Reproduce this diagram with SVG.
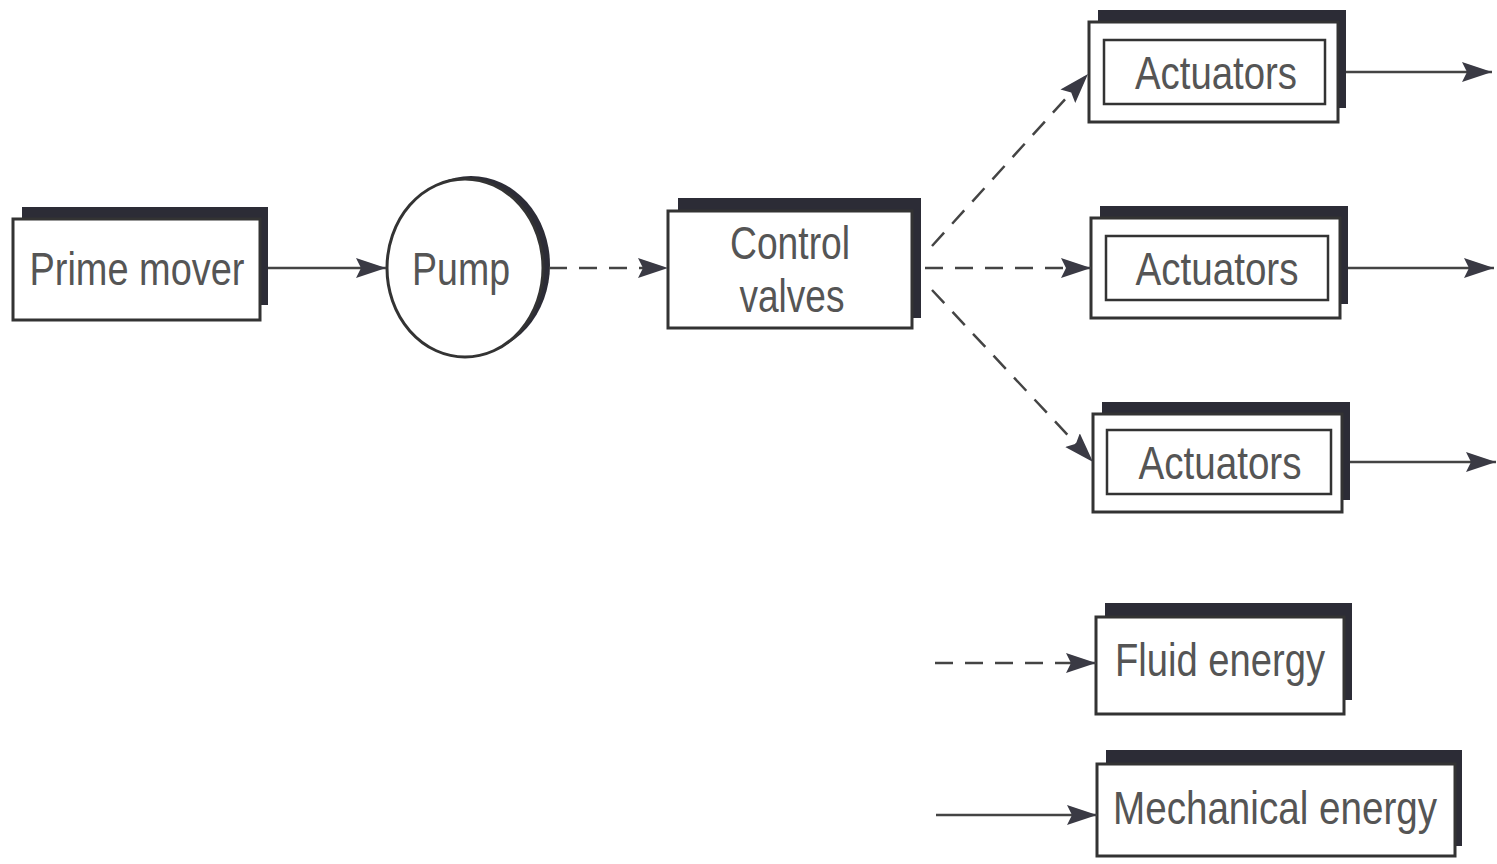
<svg xmlns="http://www.w3.org/2000/svg" width="1497" height="864" viewBox="0 0 1497 864">
<defs>
<marker id="ah" markerUnits="userSpaceOnUse" markerWidth="32" markerHeight="22" refX="30" refY="10" orient="auto">
<path d="M0,0 L30,10 L0,20 L5,10 Z" fill="#3a3a44"/>
</marker>
</defs>
<style>
.sh{fill:#2c2c36;}
.box{fill:#fff;stroke:#333;stroke-width:3;}
.inner{fill:none;stroke:#333;stroke-width:2.5;}
.t{font-family:"Liberation Sans",Arial,sans-serif;font-size:47px;fill:#555;text-anchor:middle;}
.solid{stroke:#444;stroke-width:2.5;fill:none;marker-end:url(#ah);}
.dash{stroke:#444;stroke-width:2.5;fill:none;stroke-dasharray:18 12;marker-end:url(#ah);}
</style>
<rect width="1497" height="864" fill="#fff"/>
<g id="prime-mover">
<rect class="sh" x="22" y="207" width="246" height="98"/>
<rect class="box" x="13" y="219" width="247" height="101"/>
<text class="t" x="137" y="285" textLength="215" lengthAdjust="spacingAndGlyphs">Prime mover</text>
</g>
<g id="pump">
<ellipse class="sh" cx="471" cy="265" rx="79" ry="89"/>
<ellipse class="box" cx="465" cy="268" rx="78" ry="89"/>
<text class="t" x="461" y="285" textLength="98" lengthAdjust="spacingAndGlyphs">Pump</text>
</g>
<g id="control-valves">
<rect class="sh" x="678" y="198" width="243" height="120"/>
<rect class="box" x="668" y="211" width="244" height="117"/>
<text class="t" x="790" y="259" textLength="120" lengthAdjust="spacingAndGlyphs">Control</text>
<text class="t" x="792" y="312" textLength="105" lengthAdjust="spacingAndGlyphs">valves</text>
</g>
<g id="actuators-1">
<rect class="sh" x="1098" y="10" width="248" height="98"/>
<rect class="box" x="1089" y="22" width="249" height="100"/>
<rect class="inner" x="1104" y="40" width="221" height="64"/>
<text class="t" x="1216" y="89" textLength="162" lengthAdjust="spacingAndGlyphs">Actuators</text>
</g>
<g id="actuators-2">
<rect class="sh" x="1100" y="206" width="248" height="98"/>
<rect class="box" x="1091" y="218" width="249" height="100"/>
<rect class="inner" x="1106" y="236" width="222" height="64"/>
<text class="t" x="1217" y="285" textLength="163" lengthAdjust="spacingAndGlyphs">Actuators</text>
</g>
<g id="actuators-3">
<rect class="sh" x="1102" y="402" width="248" height="98"/>
<rect class="box" x="1093" y="414" width="249" height="98"/>
<rect class="inner" x="1107" y="430" width="224" height="64"/>
<text class="t" x="1220" y="479" textLength="163" lengthAdjust="spacingAndGlyphs">Actuators</text>
</g>
<g id="fluid-energy">
<rect class="sh" x="1105" y="603" width="247" height="97"/>
<rect class="box" x="1096" y="617" width="248" height="97"/>
<text class="t" x="1220" y="676" textLength="210" lengthAdjust="spacingAndGlyphs">Fluid energy</text>
</g>
<g id="mechanical-energy">
<rect class="sh" x="1106" y="750" width="356" height="96"/>
<rect class="box" x="1097" y="764" width="358" height="92"/>
<text class="t" style="font-size:40px" transform="translate(1275,824) scale(1,1.175)" x="0" y="0" textLength="324" lengthAdjust="spacingAndGlyphs">Mechanical energy</text>
</g>
<g id="connectors">
<line class="solid" x1="268" y1="268" x2="386" y2="268"/>
<line class="dash" x1="549" y1="268" x2="668" y2="268"/>
<line class="dash" x1="932" y1="246" x2="1088" y2="74"/>
<line class="dash" x1="925" y1="268" x2="1091" y2="268"/>
<line class="dash" x1="932" y1="290" x2="1093" y2="462"/>
<line class="solid" x1="1346" y1="72" x2="1492" y2="72"/>
<line class="solid" x1="1348" y1="268" x2="1494" y2="268"/>
<line class="solid" x1="1350" y1="462" x2="1496" y2="462"/>
<line class="dash" x1="935" y1="663" x2="1096" y2="663"/>
<line class="solid" x1="936" y1="815" x2="1097" y2="815"/>
</g>
</svg>
